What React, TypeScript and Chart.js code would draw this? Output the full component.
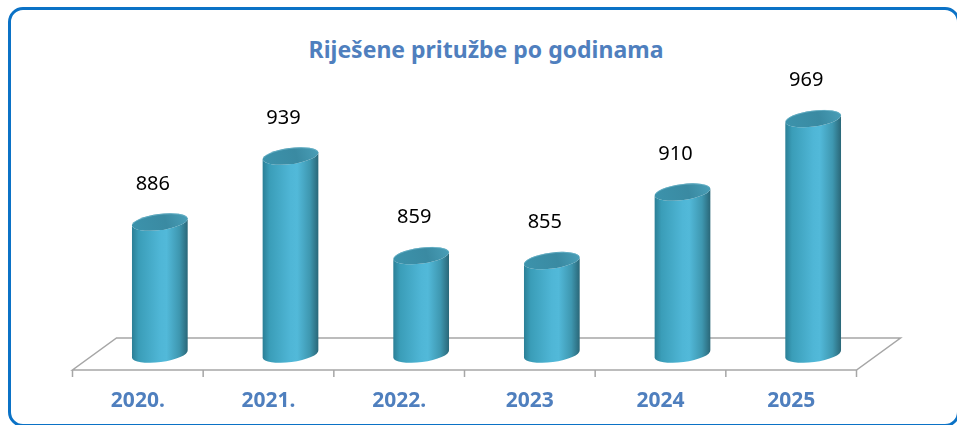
import React, { useEffect, useRef } from "react";
import { Chart, registerables } from "chart.js";

Chart.register(...registerables);

const categories: string[] = ["2020.", "2021.", "2022.", "2023", "2024", "2025"];
const resolved: number[] = [886, 939, 859, 855, 910, 969];
const chartTitle = "Riješene pritužbe po godinama";
const yMin = 780;
const yMax = 1000;

const W = 957;
const H = 425;
const DEPTH_X = 44;
const DEPTH_Y = 32;
const BLUE_TEXT = "#4F7FBE";

const cylinderPlugin = {
  id: "cylinders3d",
  beforeDatasetsDraw(chart: any) {
    const ctx: CanvasRenderingContext2D = chart.ctx;
    const xs = chart.scales.x;
    const ys = chart.scales.y;
    const area = chart.chartArea;
    const base = ys.getPixelForValue(yMin);
    const hx = DEPTH_X / 2;
    const hy = DEPTH_Y / 2;
    const fl = area.left - hx, fr = area.right - hx, fy = base + hy;
    const bl = area.left + hx, br = area.right + hx, by = base - hy;
    ctx.save();
    ctx.strokeStyle = "#A6A6A6";
    ctx.lineWidth = 1.5;
    ctx.beginPath();
    ctx.moveTo(fl, fy);
    ctx.lineTo(fr, fy);
    ctx.lineTo(br, by);
    ctx.lineTo(bl, by);
    ctx.closePath();
    ctx.stroke();
    const n = categories.length;
    const step = n > 1 ? xs.getPixelForValue(1) - xs.getPixelForValue(0) : area.right - area.left;
    ctx.beginPath();
    for (let i = 0; i <= n; i++) {
      const xb = i < n ? xs.getPixelForValue(i) - step / 2 - hx : xs.getPixelForValue(n - 1) + step / 2 - hx;
      ctx.moveTo(xb, fy);
      ctx.lineTo(xb, fy + 7);
    }
    ctx.stroke();
    ctx.fillStyle = BLUE_TEXT;
    ctx.font = "bold 21px 'Noto Sans', 'Open Sans', sans-serif";
    ctx.textAlign = "center";
    ctx.textBaseline = "middle";
    for (let i = 0; i < n; i++) {
      ctx.fillText(categories[i], xs.getPixelForValue(i) - hx, fy + 31);
    }
    ctx.restore();
  },
  afterDatasetsDraw(chart: any) {
    const ctx: CanvasRenderingContext2D = chart.ctx;
    const ys = chart.scales.y;
    const meta = chart.getDatasetMeta(0);
    const rot = -0.13;
    const bot = ys.getPixelForValue(yMin);
    meta.data.forEach((bar: any, i: number) => {
      const cx = bar.x;
      const rx = bar.width / 2;
      const ry = 8;
      const top = bar.y;
      const ex = rx * Math.cos(rot);
      const ey = rx * Math.sin(rot);
      ctx.save();
      const g = ctx.createLinearGradient(cx - ex, 0, cx + ex, 0);
      g.addColorStop(0, "#2B7F96");
      g.addColorStop(0.12, "#3A9DB8");
      g.addColorStop(0.5, "#4FB6D6");
      g.addColorStop(0.62, "#52B9D9");
      g.addColorStop(0.85, "#3E97B0");
      g.addColorStop(1, "#2A6778");
      ctx.fillStyle = g;
      ctx.beginPath();
      ctx.moveTo(cx - ex, top - ey);
      ctx.lineTo(cx - ex, bot - ey);
      ctx.ellipse(cx, bot, rx, ry, rot, Math.PI, 0, true);
      ctx.lineTo(cx + ex, top + ey);
      ctx.ellipse(cx, top, rx, ry, rot, 0, Math.PI, false);
      ctx.closePath();
      ctx.fill();
      const tg = ctx.createLinearGradient(cx - rx, top + ry, cx + rx, top - ry);
      tg.addColorStop(0, "#3C93AC");
      tg.addColorStop(0.6, "#3A8AA2");
      tg.addColorStop(1, "#4A9FB8");
      ctx.fillStyle = tg;
      ctx.beginPath();
      ctx.ellipse(cx, top, rx, ry, rot, 0, Math.PI * 2);
      ctx.fill();
      ctx.strokeStyle = "rgba(120,190,210,0.6)";
      ctx.lineWidth = 1;
      ctx.beginPath();
      ctx.ellipse(cx, top, rx - 0.5, ry - 0.5, rot, Math.PI * 1.05, Math.PI * 1.95);
      ctx.stroke();
      ctx.fillStyle = "#000000";
      ctx.font = "20px 'Noto Sans', 'Open Sans', sans-serif";
      ctx.textAlign = "center";
      ctx.textBaseline = "middle";
      ctx.fillText(String(resolved[i]), cx - 7, top - 38);
      ctx.restore();
    });
  },
};

export default function App() {
  const ref = useRef<HTMLCanvasElement | null>(null);
  useEffect(() => {
    if (!ref.current) return;
    const chart = new Chart(ref.current, {
      type: "bar",
      data: {
        labels: categories,
        datasets: [
          {
            label: "Riješene pritužbe",
            data: resolved,
            backgroundColor: "rgba(0,0,0,0)",
            borderWidth: 0,
            categoryPercentage: 1,
            barPercentage: 0.43,
          },
        ],
      },
      options: {
        animation: false,
        responsive: false,
        devicePixelRatio: 1,
        layout: { padding: { left: 94.5, right: W - 878.5, top: 80, bottom: H - 354 } },
        scales: {
          x: { display: false },
          y: { display: false, min: yMin, max: yMax },
        },
        plugins: {
          legend: { display: false },
          tooltip: { enabled: false },
          title: { display: false, text: chartTitle },
        },
      },
      plugins: [cylinderPlugin],
    });
    return () => chart.destroy();
  }, []);

  return (
    <div style={{ position: "fixed", left: 0, top: 0, width: W, height: H, background: "#fff", overflow: "hidden" }}>
      <div
        style={{
          position: "absolute",
          left: 8,
          top: 7,
          width: 952,
          height: 420,
          border: "3px solid #0B72C6",
          borderRadius: 15,
          boxSizing: "border-box",
        }}
      />
      <div
        style={{
          position: "absolute",
          left: 0,
          top: 34,
          width: 972,
          textAlign: "center",
          color: BLUE_TEXT,
          fontFamily: "'Noto Sans', 'Open Sans', sans-serif",
          fontWeight: 700,
          fontSize: 23,
          lineHeight: "30px",
        }}
      >
        {chartTitle}
      </div>
      <canvas ref={ref} width={W} height={H} style={{ position: "absolute", left: 0, top: 0 }} />
    </div>
  );
}
